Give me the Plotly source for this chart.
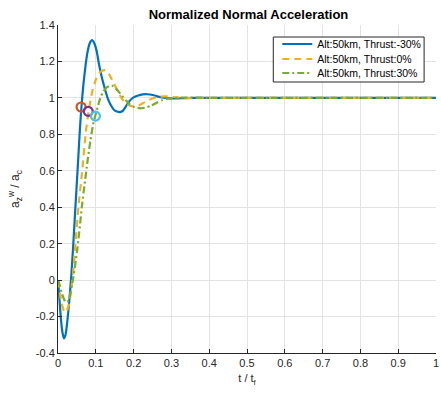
import plotly.graph_objects as go

# ---- data ----
t_blue = [0, 0.004, 0.008, 0.012, 0.016, 0.02, 0.025, 0.03, 0.035, 0.04, 0.046, 0.052,
          0.058, 0.062, 0.067, 0.073, 0.078, 0.084, 0.09, 0.096, 0.102, 0.108, 0.114,
          0.12, 0.126, 0.132, 0.14, 0.148, 0.156, 0.164, 0.172, 0.18, 0.19, 0.2, 0.212,
          0.224, 0.236, 0.248, 0.26, 0.275, 0.29, 0.31, 0.34, 0.38, 0.42, 0.5, 0.6, 0.7,
          0.8, 0.9, 1.0]
y_blue = [0, -0.11, -0.22, -0.29, -0.32, -0.30, -0.22, -0.11, 0.02, 0.18, 0.40, 0.61,
          0.83, 0.95, 1.07, 1.18, 1.25, 1.30, 1.317, 1.30, 1.26, 1.19, 1.13,
          1.08, 1.035, 0.995, 0.96, 0.935, 0.925, 0.922, 0.93, 0.955, 0.985, 1.003, 1.013,
          1.019, 1.02, 1.017, 1.01, 1.003, 0.998, 0.997, 0.999, 1.0, 1.0, 1.0, 1.0, 1.0,
          1.0, 1.0, 1.0]

t_orange = [0, 0.005, 0.01, 0.016, 0.022, 0.028, 0.034, 0.04, 0.046, 0.054, 0.064, 0.073,
            0.081, 0.09, 0.1, 0.11, 0.118, 0.125, 0.135, 0.145, 0.155, 0.165, 0.175, 0.187,
            0.2, 0.215, 0.23, 0.25, 0.27, 0.29, 0.32, 0.36, 0.4, 0.5, 0.6, 0.7, 0.8, 0.9, 1.0]
y_orange = [0, -0.07, -0.13, -0.17, -0.175, -0.14, -0.07, 0.04, 0.2, 0.4, 0.6, 0.8,
            0.926, 1.03, 1.10, 1.138, 1.15, 1.152, 1.13, 1.09, 1.05, 1.01, 0.98, 0.96,
            0.953, 0.96, 0.977, 0.997, 1.007, 1.008, 1.002, 0.999, 1.0, 1.0, 1.0, 1.0, 1.0, 1.0, 1.0]

t_green = [0, 0.005, 0.01, 0.015, 0.02, 0.025, 0.03, 0.035, 0.04, 0.048, 0.056, 0.063, 0.07,
           0.078, 0.086, 0.093, 0.099, 0.105, 0.112, 0.12, 0.128, 0.136, 0.144, 0.152, 0.16,
           0.17, 0.18, 0.19, 0.2, 0.21, 0.22, 0.23, 0.245, 0.26, 0.275, 0.29, 0.31, 0.34,
           0.38, 0.42, 0.5, 0.6, 0.7, 0.8, 0.9, 1.0]
y_green = [0, -0.03, -0.07, -0.10, -0.12, -0.12, -0.10, -0.05, 0.01, 0.12, 0.26, 0.40, 0.52,
           0.65, 0.77, 0.855, 0.905, 0.95, 1.0, 1.035, 1.056, 1.066, 1.066, 1.055, 1.035,
           1.01, 0.985, 0.965, 0.952, 0.945, 0.943, 0.946, 0.956, 0.972, 0.987, 0.996, 1.0, 1.002,
           1.001, 1.0, 1.0, 1.0, 1.0, 1.0, 1.0, 1.0]

marker_t = [0.061, 0.080, 0.099]
marker_y = [0.95, 0.926, 0.90]
marker_colors = ["#D95319", "#7E2F8E", "#4DBEEE"]

series_names = ["Alt:50km, Thrust:-30%", "Alt:50km, Thrust:0%", "Alt:50km, Thrust:30%"]

x_ticks = [0, 0.1, 0.2, 0.3, 0.4, 0.5, 0.6, 0.7, 0.8, 0.9, 1]
x_ticktext = ["0", "0.1", "0.2", "0.3", "0.4", "0.5", "0.6", "0.7", "0.8", "0.9", "1"]
y_ticks = [-0.4, -0.2, 0, 0.2, 0.4, 0.6, 0.8, 1.0, 1.2, 1.4]
y_ticktext = ["-0.4", "-0.2", "0", "0.2", "0.4", "0.6", "0.8", "1", "1.2", "1.4"]

FONT = "Liberation Sans, Arial, sans-serif"
TXT = "#262626"

# plot-area geometry (pixels) used only for layout placement
L, R, T, B = 58, 439, 25, 353
W, H = R - L, B - T

def px_x(p):
    return (p - L) / W

def px_y(p):
    return 1 - (p - T) / H

fig = go.Figure()
fig.add_trace(go.Scatter(x=t_blue, y=y_blue, mode="lines", name=series_names[0], legend="legend",
                         line=dict(color="#0072BD", width=2.2, shape="spline", smoothing=0.6)))
fig.add_trace(go.Scatter(x=t_orange, y=y_orange, mode="lines", name=series_names[1], legend="legend2",
                         line=dict(color="#EDB120", width=2.2, dash="7px,5px", shape="spline", smoothing=0.6)))
fig.add_trace(go.Scatter(x=t_green, y=y_green, mode="lines", name=series_names[2], legend="legend3",
                         line=dict(color="#77AC30", width=2.2, dash="7px,3px,2px,3px", shape="spline", smoothing=0.6)))
for tx, ty, c in zip(marker_t, marker_y, marker_colors):
    fig.add_trace(go.Scatter(x=[tx], y=[ty], mode="markers", showlegend=False,
                             marker=dict(symbol="circle-open", size=9, color=c, line=dict(width=2.2, color=c))))

leg_common = dict(xanchor="left", yanchor="middle", bgcolor="rgba(0,0,0,0)", borderwidth=0,
                  font=dict(size=10.5, color="black"), itemwidth=30)
row_y = [44, 59, 73]
leg_x = 279

# legend frame
fig.add_shape(type="rect", xref="paper", yref="paper",
              x0=px_x(275), x1=px_x(427), y0=px_y(82), y1=px_y(37),
              fillcolor="white", line=dict(color=TXT, width=1), layer="above")

fig.update_layout(
    width=441, height=393,
    margin=dict(l=L, r=441 - R, t=T, b=393 - B),
    paper_bgcolor="white", plot_bgcolor="white",
    font=dict(family=FONT, size=11, color=TXT),
    title=dict(text="<b>Normalized Normal Acceleration</b>", x=(L + R) / 2 / 441, xanchor="center",
               y=1 - 14 / 393, yanchor="middle", font=dict(size=13, color="black")),
    showlegend=True,
    legend=dict(x=px_x(leg_x), y=px_y(row_y[0]), **leg_common),
    legend2=dict(x=px_x(leg_x), y=px_y(row_y[1]), **leg_common),
    legend3=dict(x=px_x(leg_x), y=px_y(row_y[2]), **leg_common),
    xaxis=dict(range=[0, 1], tickvals=x_ticks, ticktext=x_ticktext,
               showgrid=True, gridcolor="#E3E3E3", gridwidth=1,
               showline=True, linecolor=TXT, linewidth=1, ticklabeloverflow="allow",
               ticks="inside", ticklen=4, tickcolor=TXT, zeroline=False,
               title=dict(text="t / t<sub>f</sub>", font=dict(size=11, color=TXT), standoff=6)),
    yaxis=dict(range=[-0.4, 1.4], tickvals=y_ticks, ticktext=y_ticktext,
               showgrid=True, gridcolor="#E3E3E3", gridwidth=1,
               showline=True, linecolor=TXT, linewidth=1,
               ticks="inside", ticklen=4, tickcolor=TXT, zeroline=False,
               title=dict(text="a<sub>z</sub><sup>w</sup> / a<sub>c</sub>", font=dict(size=12, color=TXT), standoff=13)),
)

fig.write_html("out.html")
